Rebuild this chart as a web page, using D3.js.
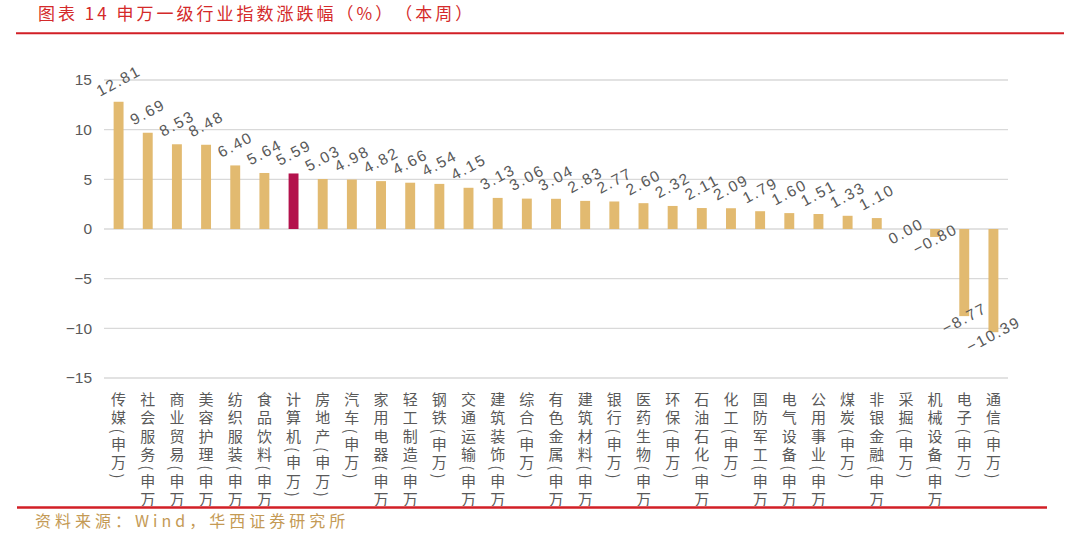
<!DOCTYPE html>
<html>
<head>
<meta charset="utf-8">
<script src="https://cdn.jsdelivr.net/npm/d3@7.9.0/dist/d3.min.js"></script>
<style>
  html, body { margin: 0; padding: 0; background: #fff; }
  svg { display: block; }
  text { text-spacing-trim: space-all; }
</style>
</head>
<body>
<svg id="chart" width="1080" height="538"></svg>
<script>
// 申万一级行业（本周）
const industries = ['传媒', '社会服务', '商业贸易', '美容护理', '纺织服装', '食品饮料', '计算机', '房地产',
  '汽车', '家用电器', '轻工制造', '钢铁', '交通运输', '建筑装饰', '综合', '有色金属', '建筑材料', '银行',
  '医药生物', '环保', '石油石化', '化工', '国防军工', '电气设备', '公用事业', '煤炭', '非银金融', '采掘',
  '机械设备', '电子', '通信'];
const changes = [12.81, 9.69, 8.53, 8.48, 6.40, 5.64, 5.59, 5.03, 4.98, 4.82, 4.66, 4.54, 4.15, 3.13,
  3.06, 3.04, 2.83, 2.77, 2.60, 2.32, 2.11, 2.09, 1.79, 1.60, 1.51, 1.33, 1.10, 0.00, -0.80, -8.77, -10.39];
const yTicks = [15, 10, 5, 0, -5, -10, -15];
const highlighted = '计算机';

const titleText = '图表 14 申万一级行业指数涨跌幅（%）（本周）';
const sourceText = '资料来源：Wind，华西证券研究所';

const data = industries.map((name, i) => ({ name, value: changes[i] }));

const svg = d3.select('#chart');
const plot = { left: 104, right: 1008, top: 80, bottom: 378 };

const x = d3.scaleBand()
  .domain(industries)
  .range([plot.left, plot.right])
  .paddingInner(0.66)
  .paddingOuter(0.33);

const y = d3.scaleLinear().domain([-15, 15]).range([plot.bottom, plot.top]);

// title + rules
svg.append('text')
  .attr('x', 38)
  .attr('y', 20)
  .attr('fill', '#d42a2a')
  .style('font-family', '"Noto Sans CJK SC", sans-serif')
  .style('font-size', '17px')
  .style('letter-spacing', '3px')
  .text(titleText);

svg.append('line')
  .attr('x1', 16).attr('x2', 1064)
  .attr('y1', 33.3).attr('y2', 33.3)
  .attr('stroke', '#d21f26')
  .attr('stroke-width', 2);

// gridlines
svg.append('g')
  .selectAll('line')
  .data(yTicks)
  .join('line')
  .attr('x1', plot.left)
  .attr('x2', plot.right)
  .attr('y1', (d) => y(d))
  .attr('y2', (d) => y(d))
  .attr('stroke', '#d9d9d9')
  .attr('stroke-width', 1.3);

// y axis labels
const yAxis = d3.axisLeft(y)
  .tickValues(yTicks)
  .tickSize(0)
  .tickPadding(0)
  .tickFormat((d) => (d < 0 ? '\u2212' + Math.abs(d) : String(d)));

const yAxisG = svg.append('g')
  .attr('transform', 'translate(92,0)')
  .call(yAxis);
yAxisG.select('.domain').remove();
yAxisG.selectAll('text')
  .attr('fill', '#595959')
  .style('font-family', '"Liberation Sans", Arial, sans-serif')
  .style('font-size', '15.5px');

// bars
svg.append('g')
  .selectAll('rect')
  .data(data)
  .join('rect')
  .attr('x', (d) => x(d.name))
  .attr('width', x.bandwidth())
  .attr('y', (d) => y(Math.max(0, d.value)))
  .attr('height', (d) => Math.abs(y(d.value) - y(0)))
  .attr('fill', (d) => (d.name === highlighted ? '#b3124c' : '#e2ba70'));

// value labels
svg.append('g')
  .selectAll('text')
  .data(data)
  .join('text')
  .attr('transform', (d) => {
    const cx = x(d.name) + x.bandwidth() / 2;
    const cy = d.value > 0 ? y(d.value) - 21 : y(d.value) + 2;
    return `translate(${cx},${cy}) rotate(-28)`;
  })
  .attr('text-anchor', 'middle')
  .attr('dominant-baseline', 'central')
  .attr('fill', '#595959')
  .style('font-family', '"Liberation Sans", Arial, sans-serif')
  .style('font-size', '15.5px')
  .style('letter-spacing', '1.8px')
  .text((d) => (d.value < 0 ? '\u2212' + Math.abs(d.value).toFixed(2) : d.value.toFixed(2)));

// category labels, vertical, clipped by the footer rule
svg.append('clipPath')
  .attr('id', 'label-clip')
  .append('rect')
  .attr('x', 0).attr('y', 380)
  .attr('width', 1080).attr('height', 126);

svg.append('g')
  .attr('clip-path', 'url(#label-clip)')
  .selectAll('text')
  .data(industries)
  .join('text')
  .attr('x', (d) => x(d) + x.bandwidth() / 2)
  .attr('y', 392)
  .attr('fill', '#595959')
  .style('writing-mode', 'vertical-rl')
  .style('font-family', '"Noto Sans CJK SC", sans-serif')
  .style('font-size', '15px')
  .style('letter-spacing', '3.3px')
  .text((d) => `${d}(申万)`);

// footer
svg.append('line')
  .attr('x1', 17).attr('x2', 1047)
  .attr('y1', 507.5).attr('y2', 507.5)
  .attr('stroke', '#d21f26')
  .attr('stroke-width', 2.5);

svg.append('text')
  .attr('x', 35)
  .attr('y', 527)
  .attr('fill', '#c49a55')
  .style('font-family', '"Noto Sans CJK SC", sans-serif')
  .style('font-size', '16px')
  .style('letter-spacing', '4px')
  .text(sourceText);
</script>
</body>
</html>
